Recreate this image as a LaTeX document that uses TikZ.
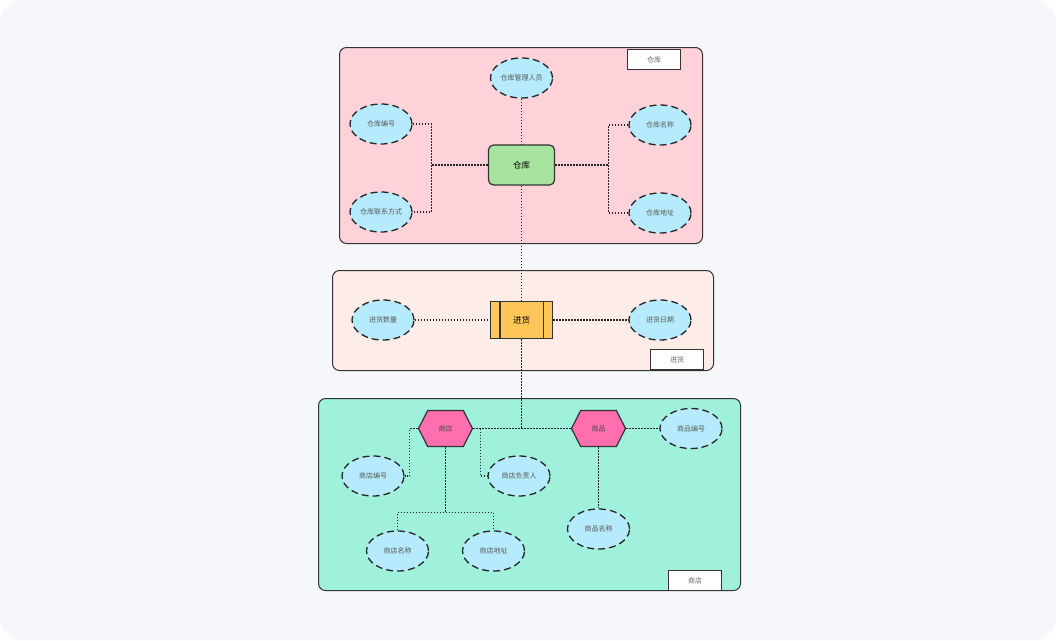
\documentclass[tikz,border=0pt]{standalone}
\usepackage{fontspec}
\setmainfont{Noto Sans CJK SC}
\usetikzlibrary{shapes}
\definecolor{pagebg}{HTML}{F6F7FB}
\definecolor{ckpink}{HTML}{FFD1D9}
\definecolor{jhrose}{HTML}{FDECE8}
\definecolor{sdmint}{HTML}{A0F1DB}
\definecolor{attrblue}{HTML}{B5EBFD}
\definecolor{entgreen}{HTML}{A8E4A0}
\definecolor{relorange}{HTML}{FFC75A}
\definecolor{hexpink}{HTML}{FF6EAE}

\begin{document}
\begin{tikzpicture}[x=1pt, y=-1pt, font=\fontsize{7}{8}\selectfont,
                    panel/.style={rectangle, draw=black!80, line width=1pt, rounded corners=7pt, anchor=north west},
                    tag/.style={rectangle, draw=black!80, fill=white, line width=1pt, anchor=north west,
                                minimum width=53pt, minimum height=20pt, text=black!60},
                    attr/.style={ellipse, draw=black!85, fill=attrblue, line width=1.3pt,
                                 dash pattern=on 7pt off 4pt, minimum width=62pt, minimum height=40pt,
                                 inner sep=0pt, text=black!65},
                    entity/.style={rectangle, draw=black!80, fill=entgreen, line width=1.2pt, rounded corners=5pt,
                                   minimum width=66pt, minimum height=40pt, font=\fontsize{8.5}{9}\selectfont},
                    relation/.style={rectangle, draw=black!80, fill=relorange, line width=1.2pt,
                                     minimum width=62pt, minimum height=37pt, font=\fontsize{8.5}{9}\selectfont},
                    hexa/.style={signal, signal to=west and east, signal pointer angle=126, draw=black!80,
                                 fill=hexpink, line width=1.2pt, minimum width=54pt, minimum height=36pt,
                                 inner sep=0pt, text=black!70},
                    link/.style={draw=black!85, line width=1.1pt, dash pattern=on 1.5pt off 1.5pt}
                    ]

% page
\fill[white] (0,0) rectangle (1056,640);
\fill[pagebg, rounded corners=22pt] (0,0) rectangle (1056,640);
\useasboundingbox (0,0) rectangle (1056,640);

% panels
\node[panel, fill=ckpink, minimum width=363pt, minimum height=196pt] (pck) at (339,47) {};
\node[panel, fill=jhrose, minimum width=381pt, minimum height=100pt] (pjh) at (332,270) {};
\node[panel, fill=sdmint, minimum width=422pt, minimum height=192pt] (psd) at (318,398) {};
\node[tag] (tck) at (627,49) {仓库};
\node[tag] (tjh) at (650,349) {进货};
\node[tag] (tsd) at (668,570) {商店};

% 仓库
\node[entity] (ck) at (521.5,165) {仓库};
\node[attr] (ckry) at (521.5,78) {仓库管理人员};
\node[attr] (ckbh) at (381,124) {仓库编号};
\node[attr] (cklx) at (381,212) {仓库联系方式};
\node[attr] (ckmc) at (660,125) {仓库名称};
\node[attr] (ckdz) at (660,213) {仓库地址};
\coordinate (ckL) at (431.5,165);
\coordinate (ckR) at (608.5,165);

% 进货
\node[relation] (jh) at (521.5,320) {进货};
\draw[line width=1.2pt, draw=black!80] ([xshift=10pt]jh.north west) -- ([xshift=10pt]jh.south west)
                                       ([xshift=-10pt]jh.north east) -- ([xshift=-10pt]jh.south east);
\node[attr] (jhsl) at (383,320) {进货数量};
\node[attr] (jhrq) at (660,320) {进货日期};

% 商店 / 商品
\node[hexa] (sd) at (445.5,428.5) {商店};
\node[hexa] (sp) at (598.5,428.5) {商品};
\coordinate (jx) at (521.5,428.5);
\node[attr] (sdbh) at (373,476) {商店编号};
\node[attr] (sdfz) at (519,476) {商店负责人};
\node[attr] (sdmc) at (397.5,551) {商店名称};
\node[attr] (sddz) at (493.5,551) {商店地址};
\node[attr] (spbh) at (691,428.5) {商品编号};
\node[attr] (spmc) at (598.5,529) {商品名称};
\coordinate (sdB) at (445.5,512.5);

% links
\draw[link] (ckry) -- (ck);
\draw[link] (ck) -- (ckL);
\draw[link] (ckbh.east) -| (ckL) |- (cklx.east);
\draw[link] (ck) -- (ckR);
\draw[link] (ckmc.west) -| (ckR) |- (ckdz.west);
\draw[link] (ck) -- (jh);
\draw[link] (jhsl) -- (jh);
\draw[link] (jh) -- (jhrq);
\draw[link] (jh) -- (jx);
\draw[link] (sd.east) -- (jx) -- (sp.west);
\draw[link] (sp.east) -- (spbh.west);
\draw[link] (sp.south) -- (spmc.north);
\draw[link] (sd.west) -- ++(-8,0) |- (sdbh.east);
\draw[link] ([xshift=7pt]sd.east) |- (sdfz.west);
\draw[link] (sd.south) -- (sdB);
\draw[link] (sdmc.north) |- (sdB) -| (sddz.north);
\end{tikzpicture}
\end{document}
